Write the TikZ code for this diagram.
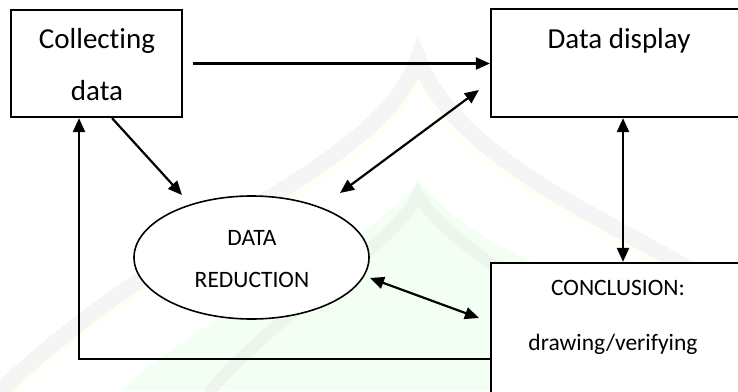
\documentclass[tikz,border=0pt]{standalone}
\usepackage{fontspec}
\setmainfont{Carlito}[Ligatures={NoCommon}]
\usetikzlibrary{arrows.meta,calc,shapes.geometric}

\tikzset{
  box/.style={draw, line width=2.2pt, fill=white, inner sep=0pt},
  oval/.style={draw, ellipse, line width=1.6pt, fill=white, inner sep=0pt,
    minimum width=235pt, minimum height=123pt},
  tip/.tip={Triangle[length=14pt,width=12pt]},
  arr/.style={line width=2.2pt, -tip},
  darr/.style={line width=2.2pt, tip-tip},
  big/.style={font=\fontsize{29}{34}\selectfont, anchor=base, inner sep=0pt},
  small/.style={font=\fontsize{23.5}{28}\selectfont, anchor=base, inner sep=0pt},
  wm/.style={line cap=round, opacity=0.18}
}

\begin{document}
\begin{tikzpicture}[x=1pt, y=-1pt]
\useasboundingbox (0,0) rectangle (738,391);
\clip (0,0) rectangle (738,391);

% faint background emblem
\fill[green!7, opacity=0.6] (120,391) .. controls (220,300) and (370,250) .. (418,180)
   .. controls (470,250) and (610,300) .. (738,330) -- (738,391) -- cycle;
\draw[wm, gray!45, line width=16pt] (0,391) .. controls (180,220) and (380,170) .. (418,58)
   .. controls (460,170) and (640,230) .. (738,300);
\draw[wm, yellow!30, opacity=0.12, line width=5pt] (14,391) .. controls (192,228) and (386,178) .. (418,76)
   .. controls (454,178) and (634,240) .. (738,314);
\draw[wm, gray!40, line width=12pt] (210,391) .. controls (290,300) and (390,250) .. (418,195)
   .. controls (450,250) and (560,300) .. (660,391);

% boxes
\node[box, minimum width=171pt, minimum height=107pt] (collect) at (96.5,63.5) {};
\node[box, minimum width=260pt, minimum height=108pt] (display) at (621,63) {};
\node[box, minimum width=260pt, minimum height=150pt] (concl) at (621,338) {};
\node[oval] (reduce) at (251.5,257.5) {};

% labels
\node[big] (t1) at (97,48) {Collecting};
\node[big] (t2) at (97,100) {data};
\node[big] (t3) at (619,48) {Data display};
\node[small] (t4) at (252,245) {DATA};
\node[small] (t5) at (252,287) {REDUCTION};
\node[small] (t6) at (618,295) {CONCLUSION:};
\node[small] (t7) at (613,350) {drawing/verifying};

% connectors
\draw[arr, shorten <=10pt] (collect.east) -- (collect.east -| display.west);
\draw[arr] ($(collect.south)+(15.5,0)$) -- ($(reduce.center)+(-69.5,-62.5)$);
\draw[darr] ($(reduce.center)+(88.5,-64.5)$) -- ($(display.west)+(-11,27)$);
\draw[darr] (display.south -| 623,0) -- (concl.north -| 623,0);
\draw[darr] ($(reduce.center)+(118.5,20.5)$) -- ($(concl.west)+(-11,-20)$);
\draw[arr] (concl.west |- 0,359) -| (collect.south -| 79,0);
\end{tikzpicture}
\end{document}
